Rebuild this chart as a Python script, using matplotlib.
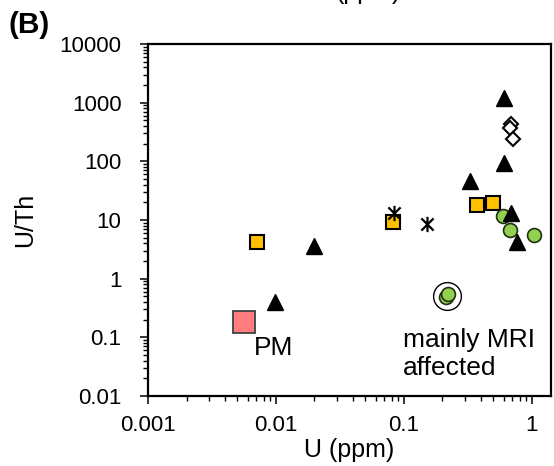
import matplotlib
matplotlib.use("Agg")
import matplotlib.pyplot as plt
import numpy as np
from matplotlib.path import Path
from matplotlib.ticker import LogLocator, NullFormatter, FixedLocator, FixedFormatter

plt.rcParams['font.family'] = ['Liberation Sans', 'DejaVu Sans']

# ---- data ----
orange_u = [0.0071, 0.082, 0.37, 0.50]
orange_th = [4.3, 9.2, 18.0, 19.5]

tri_u = [0.0099, 0.020, 0.33, 0.60, 0.60, 0.69, 0.77]
tri_th = [0.40, 3.6, 46, 1200, 95, 13, 4.3]

diam_u = [0.69, 0.67, 0.71]
diam_th = [430, 370, 240]

star_u = [0.083, 0.152]
star_th = [13.0, 8.4]

green_u = [0.59, 0.67, 1.04, 0.215, 0.222]
green_th = [11.5, 6.8, 5.5, 0.48, 0.54]

ring_u = [0.218]
ring_th = [0.51]

pm_u = [0.0056]
pm_th = [0.185]

xticks = [0.001, 0.01, 0.1, 1]
xticklabels = ['0.001', '0.01', '0.1', '1']
yticks = [0.01, 0.1, 1, 10, 100, 1000, 10000]
yticklabels = ['0.01', '0.1', '1', '10', '100', '1000', '10000']

# Excel-like star marker: X with vertical line
star_path = Path([(-1, -1), (1, 1), (-1, 1), (1, -1), (0, -1.25), (0, 1.25)],
                 [Path.MOVETO, Path.LINETO, Path.MOVETO, Path.LINETO, Path.MOVETO, Path.LINETO])

fig = plt.figure(figsize=(5.54, 4.66), dpi=100)
ax = fig.add_axes([148/554, 1-396/466, (551-148)/554, (396-44)/466])
ax.set_xscale('log')
ax.set_yscale('log')
ax.set_xlim(0.001, 1.41)
ax.set_ylim(0.01, 10000)

ax.plot(ring_u, ring_th, 'o', ms=20, mfc='white', mec='black', mew=1.0, zorder=2)
ax.plot(pm_u, pm_th, 's', ms=16.5, mfc='#FF7C80', mec='#404040', mew=1.3, zorder=3)
ax.plot(orange_u, orange_th, 's', ms=10, mfc='#FFC000', mec='black', mew=1.5, zorder=3)
ax.plot(star_u, star_th, ls='none', marker=star_path, ms=11, mec='black', mew=1.6, zorder=4)
ax.plot(diam_u, diam_th, 'D', ms=7.5, mfc='white', mec='black', mew=1.5, zorder=3)
ax.plot(green_u, green_th, 'o', ms=10, mfc='#92D050', mec='#1F2F10', mew=1.2, zorder=4)
ax.plot(tri_u, tri_th, '^', ms=12, mfc='black', mec='black', ls='none', zorder=5)

ax.text(0.0067, 0.065, 'PM', fontsize=19, ha='left', va='center')
ax.text(0.098, 0.052, 'mainly MRI\naffected', fontsize=19, ha='left', va='center', linespacing=1.25)

ax.xaxis.set_major_locator(FixedLocator(xticks))
ax.xaxis.set_major_formatter(FixedFormatter(xticklabels))
ax.yaxis.set_major_locator(FixedLocator(yticks))
ax.yaxis.set_major_formatter(FixedFormatter(yticklabels))
ax.xaxis.set_minor_locator(LogLocator(base=10, subs=np.arange(2, 10), numticks=20))
ax.yaxis.set_minor_locator(LogLocator(base=10, subs=np.arange(2, 10), numticks=20))
ax.xaxis.set_minor_formatter(NullFormatter())
ax.yaxis.set_minor_formatter(NullFormatter())

ax.tick_params(which='major', direction='out', length=6, width=1.1, labelsize=16)
ax.tick_params(axis='x', which='major', pad=8)
ax.tick_params(axis='y', which='major', pad=13)
ax.tick_params(which='minor', direction='out', length=3.5, width=1.0)
for s in ax.spines.values():
    s.set_linewidth(1.6)

ax.set_xlabel('U (ppm)', fontsize=18, labelpad=1)
ax.set_ylabel('U/Th', fontsize=18, labelpad=16)

fig.text(8/554, 1-33/466, '(B)', fontsize=21.5, fontweight='bold', ha='left', va='baseline')
fig.text(368/554, 1 + 1.5/466, '(ppm)', fontsize=18, ha='center', va='baseline')

fig.savefig('out.png', dpi=100)
